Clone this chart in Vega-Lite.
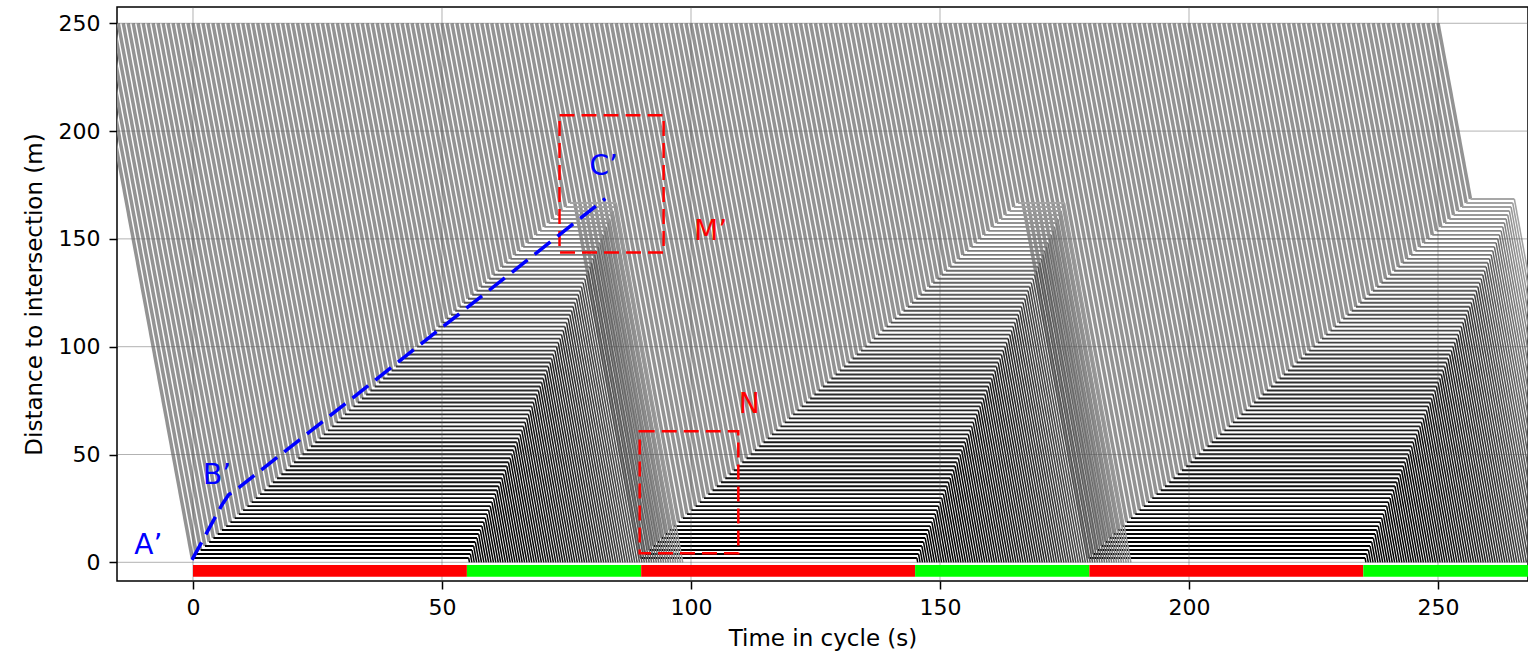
{
"$schema": "https://vega.github.io/schema/vega-lite/v6.json",
"width": 1411, "height": 574,
"autosize": {"type": "none"},
"padding": {"left": 117, "top": 7, "right": 0, "bottom": 78},
"background": "#ffffff",
"config": {"view": {"stroke": "#000000", "strokeWidth": 1.5}, "font": "DejaVu Sans"},
"datasets": {
"veh": [
{"a":-20,"s":-0.16,"g":55.36,"e":55.52,"d":2},{"a":-19,"s":0.69,"g":55.69,"e":56,"d":3.85},{"a":-18,"s":1.54,"g":56.03,"e":56.48,"d":5.7},{"a":-17,"s":2.4,"g":56.36,"e":56.96,"d":7.55},{"a":-16,"s":3.25,"g":56.69,"e":57.44,"d":9.4},
{"a":-15,"s":4.1,"g":57.03,"e":57.93,"d":11.25},{"a":-14,"s":4.95,"g":57.36,"e":58.41,"d":13.1},{"a":-13,"s":5.8,"g":57.69,"e":58.89,"d":14.95},{"a":-12,"s":6.66,"g":58.02,"e":59.37,"d":16.8},{"a":-11,"s":7.51,"g":58.36,"e":59.85,"d":18.65},
{"a":-10,"s":8.36,"g":58.69,"e":60.33,"d":20.5},{"a":-9,"s":9.21,"g":59.02,"e":60.81,"d":22.35},{"a":-8,"s":10.06,"g":59.36,"e":61.29,"d":24.2},{"a":-7,"s":10.92,"g":59.69,"e":61.77,"d":26.05},{"a":-6,"s":11.77,"g":60.02,"e":62.25,"d":27.9},
{"a":-5,"s":12.62,"g":60.36,"e":62.74,"d":29.75},{"a":-4,"s":13.47,"g":60.69,"e":63.22,"d":31.6},{"a":-3,"s":14.32,"g":61.02,"e":63.7,"d":33.45},{"a":-2,"s":15.18,"g":61.35,"e":64.18,"d":35.3},{"a":-1,"s":16.03,"g":61.69,"e":64.66,"d":37.15},
{"a":0,"s":16.88,"g":62.02,"e":65.14,"d":39},{"a":1,"s":17.73,"g":62.35,"e":65.62,"d":40.85},{"a":2,"s":18.58,"g":62.69,"e":66.1,"d":42.7},{"a":3,"s":19.44,"g":63.02,"e":66.58,"d":44.55},{"a":4,"s":20.29,"g":63.35,"e":67.06,"d":46.4},
{"a":5,"s":21.14,"g":63.69,"e":67.55,"d":48.25},{"a":6,"s":21.99,"g":64.02,"e":68.03,"d":50.1},{"a":7,"s":22.84,"g":64.35,"e":68.51,"d":51.95},{"a":8,"s":23.7,"g":64.68,"e":68.99,"d":53.8},{"a":9,"s":24.55,"g":65.02,"e":69.47,"d":55.65},
{"a":10,"s":25.4,"g":65.35,"e":69.95,"d":57.5},{"a":11,"s":26.25,"g":65.68,"e":70.43,"d":59.35},{"a":12,"s":27.1,"g":66.02,"e":70.91,"d":61.2},{"a":13,"s":27.96,"g":66.35,"e":71.39,"d":63.05},{"a":14,"s":28.81,"g":66.68,"e":71.87,"d":64.9},
{"a":15,"s":29.66,"g":67.02,"e":72.36,"d":66.75},{"a":16,"s":30.51,"g":67.35,"e":72.84,"d":68.6},{"a":17,"s":31.36,"g":67.68,"e":73.32,"d":70.45},{"a":18,"s":32.22,"g":68.01,"e":73.8,"d":72.3},{"a":19,"s":33.07,"g":68.35,"e":74.28,"d":74.15},
{"a":20,"s":33.92,"g":68.68,"e":74.76,"d":76},{"a":21,"s":34.77,"g":69.01,"e":75.24,"d":77.85},{"a":22,"s":35.62,"g":69.35,"e":75.72,"d":79.7},{"a":23,"s":36.48,"g":69.68,"e":76.2,"d":81.55},{"a":24,"s":37.33,"g":70.01,"e":76.68,"d":83.4},
{"a":25,"s":38.18,"g":70.35,"e":77.17,"d":85.25},{"a":26,"s":39.03,"g":70.68,"e":77.65,"d":87.1},{"a":27,"s":39.88,"g":71.01,"e":78.13,"d":88.95},{"a":28,"s":40.74,"g":71.34,"e":78.61,"d":90.8},{"a":29,"s":41.59,"g":71.68,"e":79.09,"d":92.65},
{"a":30,"s":42.44,"g":72.01,"e":79.57,"d":94.5},{"a":31,"s":43.29,"g":72.34,"e":80.05,"d":96.35},{"a":32,"s":44.14,"g":72.68,"e":80.53,"d":98.2},{"a":33,"s":45,"g":73.01,"e":81.01,"d":100.05},{"a":34,"s":45.85,"g":73.34,"e":81.49,"d":101.9},
{"a":35,"s":46.7,"g":73.68,"e":81.98,"d":103.75},{"a":36,"s":47.55,"g":74.01,"e":82.46,"d":105.6},{"a":37,"s":48.4,"g":74.34,"e":82.94,"d":107.45},{"a":38,"s":49.26,"g":74.67,"e":83.42,"d":109.3},{"a":39,"s":50.11,"g":75.01,"e":83.9,"d":111.15},
{"a":40,"s":50.96,"g":75.34,"e":84.38,"d":113},{"a":41,"s":51.81,"g":75.67,"e":84.86,"d":114.85},{"a":42,"s":52.66,"g":76.01,"e":85.34,"d":116.7},{"a":43,"s":53.52,"g":76.34,"e":85.82,"d":118.55},{"a":44,"s":54.37,"g":76.67,"e":86.3,"d":120.4},
{"a":45,"s":55.22,"g":77.01,"e":86.79,"d":122.25},{"a":46,"s":56.07,"g":77.34,"e":87.27,"d":124.1},{"a":47,"s":56.92,"g":77.67,"e":87.75,"d":125.95},{"a":48,"s":57.78,"g":78,"e":88.23,"d":127.8},{"a":49,"s":58.63,"g":78.34,"e":88.71,"d":129.65},
{"a":50,"s":59.48,"g":78.67,"e":89.19,"d":131.5},{"a":51,"s":60.33,"g":79,"e":89.67,"d":133.35},{"a":52,"s":61.18,"g":79.34,"e":90.15,"d":135.2},{"a":53,"s":62.04,"g":79.67,"e":90.63,"d":137.05},{"a":54,"s":62.89,"g":80,"e":91.11,"d":138.9},
{"a":55,"s":63.74,"g":80.34,"e":91.6,"d":140.75},{"a":56,"s":64.59,"g":80.67,"e":92.08,"d":142.6},{"a":57,"s":65.44,"g":81,"e":92.56,"d":144.45},{"a":58,"s":66.3,"g":81.33,"e":93.04,"d":146.3},{"a":59,"s":67.15,"g":81.67,"e":93.52,"d":148.15},
{"a":60,"s":68,"g":82,"e":94,"d":150},{"a":61,"s":68.85,"g":82.33,"e":94.48,"d":151.85},{"a":62,"s":69.7,"g":82.67,"e":94.96,"d":153.7},{"a":63,"s":70.56,"g":83,"e":95.44,"d":155.55},{"a":64,"s":71.41,"g":83.33,"e":95.92,"d":157.4},
{"a":65,"s":72.26,"g":83.67,"e":96.41,"d":159.25},{"a":66,"s":73.11,"g":84,"e":96.89,"d":161.1},{"a":67,"s":73.96,"g":84.33,"e":97.37,"d":162.95},{"a":68,"s":74.82,"g":84.66,"e":97.85,"d":164.8},{"a":69,"s":75.67,"g":85,"e":98.33,"d":166.65},
{"a":70,"s":89.84,"g":145.36,"e":145.52,"d":2},{"a":71,"s":90.69,"g":145.69,"e":146,"d":3.85},{"a":72,"s":91.54,"g":146.03,"e":146.48,"d":5.7},{"a":73,"s":92.4,"g":146.36,"e":146.96,"d":7.55},{"a":74,"s":93.25,"g":146.69,"e":147.44,"d":9.4},
{"a":75,"s":94.1,"g":147.03,"e":147.93,"d":11.25},{"a":76,"s":94.95,"g":147.36,"e":148.41,"d":13.1},{"a":77,"s":95.8,"g":147.69,"e":148.89,"d":14.95},{"a":78,"s":96.66,"g":148.02,"e":149.37,"d":16.8},{"a":79,"s":97.51,"g":148.36,"e":149.85,"d":18.65},
{"a":80,"s":98.36,"g":148.69,"e":150.33,"d":20.5},{"a":81,"s":99.21,"g":149.02,"e":150.81,"d":22.35},{"a":82,"s":100.06,"g":149.36,"e":151.29,"d":24.2},{"a":83,"s":100.92,"g":149.69,"e":151.77,"d":26.05},{"a":84,"s":101.77,"g":150.02,"e":152.25,"d":27.9},
{"a":85,"s":102.62,"g":150.36,"e":152.74,"d":29.75},{"a":86,"s":103.47,"g":150.69,"e":153.22,"d":31.6},{"a":87,"s":104.32,"g":151.02,"e":153.7,"d":33.45},{"a":88,"s":105.18,"g":151.35,"e":154.18,"d":35.3},{"a":89,"s":106.03,"g":151.69,"e":154.66,"d":37.15},
{"a":90,"s":106.88,"g":152.02,"e":155.14,"d":39},{"a":91,"s":107.73,"g":152.35,"e":155.62,"d":40.85},{"a":92,"s":108.58,"g":152.69,"e":156.1,"d":42.7},{"a":93,"s":109.44,"g":153.02,"e":156.58,"d":44.55},{"a":94,"s":110.29,"g":153.35,"e":157.06,"d":46.4},
{"a":95,"s":111.14,"g":153.69,"e":157.55,"d":48.25},{"a":96,"s":111.99,"g":154.02,"e":158.03,"d":50.1},{"a":97,"s":112.84,"g":154.35,"e":158.51,"d":51.95},{"a":98,"s":113.7,"g":154.68,"e":158.99,"d":53.8},{"a":99,"s":114.55,"g":155.02,"e":159.47,"d":55.65},
{"a":100,"s":115.4,"g":155.35,"e":159.95,"d":57.5},{"a":101,"s":116.25,"g":155.68,"e":160.43,"d":59.35},{"a":102,"s":117.1,"g":156.02,"e":160.91,"d":61.2},{"a":103,"s":117.96,"g":156.35,"e":161.39,"d":63.05},{"a":104,"s":118.81,"g":156.68,"e":161.87,"d":64.9},
{"a":105,"s":119.66,"g":157.02,"e":162.36,"d":66.75},{"a":106,"s":120.51,"g":157.35,"e":162.84,"d":68.6},{"a":107,"s":121.36,"g":157.68,"e":163.32,"d":70.45},{"a":108,"s":122.22,"g":158.01,"e":163.8,"d":72.3},{"a":109,"s":123.07,"g":158.35,"e":164.28,"d":74.15},
{"a":110,"s":123.92,"g":158.68,"e":164.76,"d":76},{"a":111,"s":124.77,"g":159.01,"e":165.24,"d":77.85},{"a":112,"s":125.62,"g":159.35,"e":165.72,"d":79.7},{"a":113,"s":126.48,"g":159.68,"e":166.2,"d":81.55},{"a":114,"s":127.33,"g":160.01,"e":166.68,"d":83.4},
{"a":115,"s":128.18,"g":160.35,"e":167.17,"d":85.25},{"a":116,"s":129.03,"g":160.68,"e":167.65,"d":87.1},{"a":117,"s":129.88,"g":161.01,"e":168.13,"d":88.95},{"a":118,"s":130.74,"g":161.34,"e":168.61,"d":90.8},{"a":119,"s":131.59,"g":161.68,"e":169.09,"d":92.65},
{"a":120,"s":132.44,"g":162.01,"e":169.57,"d":94.5},{"a":121,"s":133.29,"g":162.34,"e":170.05,"d":96.35},{"a":122,"s":134.14,"g":162.68,"e":170.53,"d":98.2},{"a":123,"s":135,"g":163.01,"e":171.01,"d":100.05},{"a":124,"s":135.85,"g":163.34,"e":171.49,"d":101.9},
{"a":125,"s":136.7,"g":163.68,"e":171.98,"d":103.75},{"a":126,"s":137.55,"g":164.01,"e":172.46,"d":105.6},{"a":127,"s":138.4,"g":164.34,"e":172.94,"d":107.45},{"a":128,"s":139.26,"g":164.67,"e":173.42,"d":109.3},{"a":129,"s":140.11,"g":165.01,"e":173.9,"d":111.15},
{"a":130,"s":140.96,"g":165.34,"e":174.38,"d":113},{"a":131,"s":141.81,"g":165.67,"e":174.86,"d":114.85},{"a":132,"s":142.66,"g":166.01,"e":175.34,"d":116.7},{"a":133,"s":143.52,"g":166.34,"e":175.82,"d":118.55},{"a":134,"s":144.37,"g":166.67,"e":176.3,"d":120.4},
{"a":135,"s":145.22,"g":167.01,"e":176.79,"d":122.25},{"a":136,"s":146.07,"g":167.34,"e":177.27,"d":124.1},{"a":137,"s":146.92,"g":167.67,"e":177.75,"d":125.95},{"a":138,"s":147.78,"g":168,"e":178.23,"d":127.8},{"a":139,"s":148.63,"g":168.34,"e":178.71,"d":129.65},
{"a":140,"s":149.48,"g":168.67,"e":179.19,"d":131.5},{"a":141,"s":150.33,"g":169,"e":179.67,"d":133.35},{"a":142,"s":151.18,"g":169.34,"e":180.15,"d":135.2},{"a":143,"s":152.04,"g":169.67,"e":180.63,"d":137.05},{"a":144,"s":152.89,"g":170,"e":181.11,"d":138.9},
{"a":145,"s":153.74,"g":170.34,"e":181.6,"d":140.75},{"a":146,"s":154.59,"g":170.67,"e":182.08,"d":142.6},{"a":147,"s":155.44,"g":171,"e":182.56,"d":144.45},{"a":148,"s":156.3,"g":171.33,"e":183.04,"d":146.3},{"a":149,"s":157.15,"g":171.67,"e":183.52,"d":148.15},
{"a":150,"s":158,"g":172,"e":184,"d":150},{"a":151,"s":158.85,"g":172.33,"e":184.48,"d":151.85},{"a":152,"s":159.7,"g":172.67,"e":184.96,"d":153.7},{"a":153,"s":160.56,"g":173,"e":185.44,"d":155.55},{"a":154,"s":161.41,"g":173.33,"e":185.92,"d":157.4},
{"a":155,"s":162.26,"g":173.67,"e":186.41,"d":159.25},{"a":156,"s":163.11,"g":174,"e":186.89,"d":161.1},{"a":157,"s":163.96,"g":174.33,"e":187.37,"d":162.95},{"a":158,"s":164.82,"g":174.66,"e":187.85,"d":164.8},{"a":159,"s":165.67,"g":175,"e":188.33,"d":166.65},
{"a":160,"s":179.84,"g":235.36,"e":235.52,"d":2},{"a":161,"s":180.69,"g":235.69,"e":236,"d":3.85},{"a":162,"s":181.54,"g":236.03,"e":236.48,"d":5.7},{"a":163,"s":182.4,"g":236.36,"e":236.96,"d":7.55},{"a":164,"s":183.25,"g":236.69,"e":237.44,"d":9.4},
{"a":165,"s":184.1,"g":237.03,"e":237.93,"d":11.25},{"a":166,"s":184.95,"g":237.36,"e":238.41,"d":13.1},{"a":167,"s":185.8,"g":237.69,"e":238.89,"d":14.95},{"a":168,"s":186.66,"g":238.02,"e":239.37,"d":16.8},{"a":169,"s":187.51,"g":238.36,"e":239.85,"d":18.65},
{"a":170,"s":188.36,"g":238.69,"e":240.33,"d":20.5},{"a":171,"s":189.21,"g":239.02,"e":240.81,"d":22.35},{"a":172,"s":190.06,"g":239.36,"e":241.29,"d":24.2},{"a":173,"s":190.92,"g":239.69,"e":241.77,"d":26.05},{"a":174,"s":191.77,"g":240.02,"e":242.25,"d":27.9},
{"a":175,"s":192.62,"g":240.36,"e":242.74,"d":29.75},{"a":176,"s":193.47,"g":240.69,"e":243.22,"d":31.6},{"a":177,"s":194.32,"g":241.02,"e":243.7,"d":33.45},{"a":178,"s":195.18,"g":241.35,"e":244.18,"d":35.3},{"a":179,"s":196.03,"g":241.69,"e":244.66,"d":37.15},
{"a":180,"s":196.88,"g":242.02,"e":245.14,"d":39},{"a":181,"s":197.73,"g":242.35,"e":245.62,"d":40.85},{"a":182,"s":198.58,"g":242.69,"e":246.1,"d":42.7},{"a":183,"s":199.44,"g":243.02,"e":246.58,"d":44.55},{"a":184,"s":200.29,"g":243.35,"e":247.06,"d":46.4},
{"a":185,"s":201.14,"g":243.69,"e":247.55,"d":48.25},{"a":186,"s":201.99,"g":244.02,"e":248.03,"d":50.1},{"a":187,"s":202.84,"g":244.35,"e":248.51,"d":51.95},{"a":188,"s":203.7,"g":244.68,"e":248.99,"d":53.8},{"a":189,"s":204.55,"g":245.02,"e":249.47,"d":55.65},
{"a":190,"s":205.4,"g":245.35,"e":249.95,"d":57.5},{"a":191,"s":206.25,"g":245.68,"e":250.43,"d":59.35},{"a":192,"s":207.1,"g":246.02,"e":250.91,"d":61.2},{"a":193,"s":207.96,"g":246.35,"e":251.39,"d":63.05},{"a":194,"s":208.81,"g":246.68,"e":251.87,"d":64.9},
{"a":195,"s":209.66,"g":247.02,"e":252.36,"d":66.75},{"a":196,"s":210.51,"g":247.35,"e":252.84,"d":68.6},{"a":197,"s":211.36,"g":247.68,"e":253.32,"d":70.45},{"a":198,"s":212.22,"g":248.01,"e":253.8,"d":72.3},{"a":199,"s":213.07,"g":248.35,"e":254.28,"d":74.15},
{"a":200,"s":213.92,"g":248.68,"e":254.76,"d":76},{"a":201,"s":214.77,"g":249.01,"e":255.24,"d":77.85},{"a":202,"s":215.62,"g":249.35,"e":255.72,"d":79.7},{"a":203,"s":216.48,"g":249.68,"e":256.2,"d":81.55},{"a":204,"s":217.33,"g":250.01,"e":256.68,"d":83.4},
{"a":205,"s":218.18,"g":250.35,"e":257.17,"d":85.25},{"a":206,"s":219.03,"g":250.68,"e":257.65,"d":87.1},{"a":207,"s":219.88,"g":251.01,"e":258.13,"d":88.95},{"a":208,"s":220.74,"g":251.34,"e":258.61,"d":90.8},{"a":209,"s":221.59,"g":251.68,"e":259.09,"d":92.65},
{"a":210,"s":222.44,"g":252.01,"e":259.57,"d":94.5},{"a":211,"s":223.29,"g":252.34,"e":260.05,"d":96.35},{"a":212,"s":224.14,"g":252.68,"e":260.53,"d":98.2},{"a":213,"s":225,"g":253.01,"e":261.01,"d":100.05},{"a":214,"s":225.85,"g":253.34,"e":261.49,"d":101.9},
{"a":215,"s":226.7,"g":253.68,"e":261.98,"d":103.75},{"a":216,"s":227.55,"g":254.01,"e":262.46,"d":105.6},{"a":217,"s":228.4,"g":254.34,"e":262.94,"d":107.45},{"a":218,"s":229.26,"g":254.67,"e":263.42,"d":109.3},{"a":219,"s":230.11,"g":255.01,"e":263.9,"d":111.15},
{"a":220,"s":230.96,"g":255.34,"e":264.38,"d":113},{"a":221,"s":231.81,"g":255.67,"e":264.86,"d":114.85},{"a":222,"s":232.66,"g":256.01,"e":265.34,"d":116.7},{"a":223,"s":233.52,"g":256.34,"e":265.82,"d":118.55},{"a":224,"s":234.37,"g":256.67,"e":266.3,"d":120.4},
{"a":225,"s":235.22,"g":257.01,"e":266.79,"d":122.25},{"a":226,"s":236.07,"g":257.34,"e":267.27,"d":124.1},{"a":227,"s":236.92,"g":257.67,"e":267.75,"d":125.95},{"a":228,"s":237.78,"g":258,"e":268.23,"d":127.8},{"a":229,"s":238.63,"g":258.34,"e":268.71,"d":129.65},
{"a":230,"s":239.48,"g":258.67,"e":269.19,"d":131.5},{"a":231,"s":240.33,"g":259,"e":269.67,"d":133.35},{"a":232,"s":241.18,"g":259.34,"e":270.15,"d":135.2},{"a":233,"s":242.04,"g":259.67,"e":270.63,"d":137.05},{"a":234,"s":242.89,"g":260,"e":271.11,"d":138.9},
{"a":235,"s":243.74,"g":260.34,"e":271.6,"d":140.75},{"a":236,"s":244.59,"g":260.67,"e":272.08,"d":142.6},{"a":237,"s":245.44,"g":261,"e":272.56,"d":144.45},{"a":238,"s":246.3,"g":261.33,"e":273.04,"d":146.3},{"a":239,"s":247.15,"g":261.67,"e":273.52,"d":148.15},
{"a":240,"s":248,"g":262,"e":274,"d":150},{"a":241,"s":248.85,"g":262.33,"e":274.48,"d":151.85},{"a":242,"s":249.7,"g":262.67,"e":274.96,"d":153.7},{"a":243,"s":250.56,"g":263,"e":275.44,"d":155.55},{"a":244,"s":251.41,"g":263.33,"e":275.92,"d":157.4},
{"a":245,"s":252.26,"g":263.67,"e":276.41,"d":159.25},{"a":246,"s":253.11,"g":264,"e":276.89,"d":161.1},{"a":247,"s":253.96,"g":264.33,"e":277.37,"d":162.95},{"a":248,"s":254.82,"g":264.66,"e":277.85,"d":164.8},{"a":249,"s":255.67,"g":265,"e":278.33,"d":166.65},
{"a":250,"s":256.52,"g":265.33,"e":278.81,"d":168.5}
],
"grid": [{"v":0},{"v":50},{"v":100},{"v":150},{"v":200},{"v":250}],
"signal": [
{"t0":0,"t1":55,"phase":"red"},{"t0":55,"t1":90,"phase":"green"},{"t0":90,"t1":145,"phase":"red"},
{"t0":145,"t1":180,"phase":"green"},{"t0":180,"t1":235,"phase":"red"},{"t0":235,"t1":270,"phase":"green"}
],
"boxes": [{"t0":73.6,"t1":94.5,"d0":143.7,"d1":207.4},{"t0":89.7,"t1":109.5,"d0":4.2,"d1":60.8}],
"tail": [{"t":-0.2,"d":1.1},{"t":5.8,"d":26.6},{"t":7.15,"d":31.3},{"t":9.2,"d":34.6},{"t":82.8,"d":168.7}],
"labBlue": [{"t":-11.8,"d":3.7,"label":"A’"},{"t":2.0,"d":36.1,"label":"B’"},{"t":79.6,"d":179.6,"label":"C’"}],
"labRed": [{"t":100.6,"d":149.5,"label":"M’"},{"t":109.6,"d":69.4,"label":"N"}]
},
"layer": [
{
"data": {"name": "veh"},
"mark": {"type": "rule", "color": "#939393", "strokeWidth": 3.5, "clip": true},
"encoding": {
"x": {"field": "s", "type": "quantitative", "title": "Time in cycle (s)",
"scale": {"domain": [-15.26, 268.07], "nice": false, "zero": false},
"axis": {"values": [0,50,100,150,200,250], "grid": false, "domain": false, "tickColor": "#000000", "tickWidth": 1.5, "tickSize": 8,
"labelFontSize": 22, "labelColor": "#000000", "labelPadding": 8, "labelFont": "DejaVu Sans",
"titleFontSize": 23, "titleFontWeight": "normal", "titleColor": "#000000", "titlePadding": 9, "titleFont": "DejaVu Sans"}},
"y": {"field": "d", "type": "quantitative", "title": "Distance to intersection (m)",
"scale": {"domain": [-8.67, 257.55], "nice": false, "zero": false},
"axis": {"values": [0,50,100,150,200,250], "grid": false, "domain": false, "tickColor": "#000000", "tickWidth": 1.5, "tickSize": 8,
"labelFontSize": 22, "labelColor": "#000000", "labelPadding": 9, "labelFont": "DejaVu Sans",
"titleFontSize": 23, "titleFontWeight": "normal", "titleColor": "#000000", "titlePadding": 12, "titleFont": "DejaVu Sans"}},
"x2": {"field": "a"},
"y2": {"datum": 250}
}
},
{
"data": {"name": "veh"},
"mark": {"type": "rule", "strokeWidth": 1.9, "clip": true},
"encoding": {
"x": {"field": "s", "type": "quantitative"},
"x2": {"field": "g"},
"y": {"field": "d", "type": "quantitative"},
"color": {"field": "d", "type": "quantitative", "scale": {"type": "pow", "exponent": 1.8, "domain": [0, 165], "range": ["#000000", "#a0a0a0"]}, "legend": null}
}
},
{
"data": {"name": "veh"},
"mark": {"type": "rule", "strokeWidth": 1.5, "clip": true},
"encoding": {
"x": {"field": "g", "type": "quantitative"},
"x2": {"field": "e"},
"y": {"field": "d", "type": "quantitative"},
"y2": {"datum": 0},
"stroke": {"field": "d", "type": "quantitative", "scale": {"type": "pow", "exponent": 3, "domain": [0, 168], "range": ["#000000", "#a0a0a0"]}, "legend": null}
}
},
{
"data": {"name": "grid"},
"mark": {"type": "rule", "color": "#555555", "opacity": 0.45, "strokeWidth": 1},
"encoding": {"x": {"field": "v", "type": "quantitative"}}
},
{
"data": {"name": "grid"},
"mark": {"type": "rule", "color": "#555555", "opacity": 0.45, "strokeWidth": 1},
"encoding": {"y": {"field": "v", "type": "quantitative"}}
},
{
"data": {"name": "signal"},
"mark": {"type": "rect", "clip": true},
"encoding": {
"x": {"field": "t0", "type": "quantitative"},
"x2": {"field": "t1"},
"y": {"datum": -1.2},
"y2": {"datum": -6.7},
"fill": {"field": "phase", "type": "nominal", "scale": {"domain": ["red", "green"], "range": ["#ff0000", "#00ff00"]}, "legend": null}
}
},
{
"data": {"name": "boxes"},
"mark": {"type": "rect", "fill": "#ffffff", "fillOpacity": 0, "stroke": "#ff0000", "strokeWidth": 2.5, "strokeDash": [15, 7]},
"encoding": {
"x": {"field": "t0", "type": "quantitative"},
"x2": {"field": "t1"},
"y": {"field": "d0", "type": "quantitative"},
"y2": {"field": "d1"}
}
},
{
"data": {"name": "tail"},
"mark": {"type": "line", "color": "#0000ff", "strokeWidth": 3.5, "strokeDash": [20, 9]},
"encoding": {
"x": {"field": "t", "type": "quantitative"},
"y": {"field": "d", "type": "quantitative"}
}
},
{
"data": {"name": "labBlue"},
"mark": {"type": "text", "color": "#0000ff", "fontSize": 28, "font": "DejaVu Sans", "align": "left", "baseline": "alphabetic"},
"encoding": {
"x": {"field": "t", "type": "quantitative"},
"y": {"field": "d", "type": "quantitative"},
"text": {"field": "label"}
}
},
{
"data": {"name": "labRed"},
"mark": {"type": "text", "color": "#ff0000", "fontSize": 28, "font": "DejaVu Sans", "align": "left", "baseline": "alphabetic"},
"encoding": {
"x": {"field": "t", "type": "quantitative"},
"y": {"field": "d", "type": "quantitative"},
"text": {"field": "label"}
}
}
]
}
